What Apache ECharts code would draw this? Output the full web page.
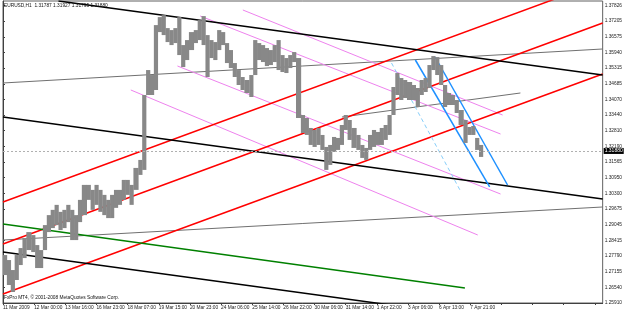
<!DOCTYPE html>
<html><head><meta charset="utf-8">
<script src="https://cdn.jsdelivr.net/npm/echarts@6/dist/echarts.min.js"></script>
<style>html,body{margin:0;padding:0;background:#fff}#c{width:625px;height:312px}</style>
</head><body><div id="c"></div>
<script>
// ---- data ----
const xLabels = ["11 Mar 2009","12 Mar 00:00","13 Mar 16:00","16 Mar 23:00","18 Mar 07:00","19 Mar 15:00","20 Mar 23:00","24 Mar 06:00","25 Mar 14:00","26 Mar 22:00","30 Mar 06:00","31 Mar 14:00","1 Apr 22:00","3 Apr 06:00","6 Apr 13:00","7 Apr 21:00"];
const yLabels = ["1.25910","1.26540","1.27155","1.27790","1.28415","1.29045","1.29675","1.30300","1.30950","1.31565","1.32190","1.32810","1.33440","1.34070","1.34685","1.35315","1.35940","1.36575","1.37205","1.37826"];
// [hour index, low, high]
const bars = [
[1,1.2703,1.2783],[5,1.2663,1.2763],[9,1.2635,1.2723],[13,1.2683,1.2783],[17,1.2743,1.2811],[21,1.2771,1.2851],[25,1.2803,1.2875],[30,1.2795,1.2863],
[34,1.2731,1.2823],[38,1.2731,1.2803],[42,1.2803,1.2903],[46,1.2875,1.2943],[50,1.2891,1.2964],[54,1.2903,1.2984],[58,1.2883,1.2956],[62,1.2891,1.2964],
[66,1.2915,1.2984],[70,1.2843,1.2964],[74,1.2843,1.2943],[78,1.2915,1.3004],[82,1.2943,1.3064],[87,1.3004,1.3064],[91,1.2964,1.3044],[95,1.2984,1.3064],
[99,1.2956,1.3044],[103,1.2943,1.3024],[107,1.2931,1.3004],[111,1.2931,1.3024],[115,1.2972,1.3044],[119,1.2984,1.3044],[123,1.3004,1.3084],[127,1.3024,1.3084],
[131,1.2984,1.3064],[135,1.3044,1.3132],[140,1.3104,1.3164],[144,1.3124,1.3424],[148,1.3424,1.3524],[152,1.3424,1.3504],[156,1.3444,1.3704],[160,1.3676,1.3736],
[164,1.3664,1.3744],[168,1.3636,1.3692],[172,1.3624,1.3684],[176,1.3632,1.3692],[180,1.3584,1.3736],[184,1.3536,1.3624],[188,1.3564,1.3644],[192,1.3604,1.3676],
[197,1.3632,1.3684],[201,1.3644,1.3724],[205,1.3624,1.3740],[209,1.3496,1.3664],[213,1.3572,1.3644],[217,1.3564,1.3636],[221,1.3604,1.3684],[225,1.3624,1.3676],
[229,1.3552,1.3632],[233,1.3532,1.3604],[237,1.3496,1.3552],[241,1.3464,1.3524],[245,1.3444,1.3496],[249,1.3432,1.3484],[254,1.3416,1.3504],[258,1.3504,1.3644],
[262,1.3564,1.3632],[266,1.3556,1.3624],[270,1.3540,1.3612],[274,1.3544,1.3604],[278,1.3556,1.3624],[282,1.3524,1.3644],[286,1.3516,1.3584],[290,1.3512,1.3572],
[294,1.3532,1.3584],[298,1.3556,1.3596],[302,1.3332,1.3572],[307,1.3272,1.3344],[311,1.3264,1.3332],[315,1.3224,1.3292],[319,1.3216,1.3284],[323,1.3224,1.3292],
[327,1.3204,1.3264],[331,1.3124,1.3216],[335,1.3144,1.3224],[339,1.3196,1.3256],[343,1.3204,1.3252],[347,1.3224,1.3304],[351,1.3284,1.3344],[355,1.3244,1.3324],
[359,1.3212,1.3292],[364,1.3204,1.3264],[368,1.3172,1.3224],[372,1.3164,1.3212],[376,1.3204,1.3264],[380,1.3216,1.3284],[384,1.3224,1.3276],[388,1.3224,1.3292],
[392,1.3244,1.3304],[396,1.3264,1.3344],[400,1.3344,1.3456],[404,1.3424,1.3512],[408,1.3404,1.3492],[412,1.3412,1.3484],[416,1.3404,1.3476],[421,1.3404,1.3464],
[425,1.3376,1.3452],[429,1.3424,1.3484],[433,1.3436,1.3492],[437,1.3452,1.3544],[441,1.3524,1.3580],[445,1.3504,1.3576],[449,1.3464,1.3544],[453,1.3376,1.3464],
[457,1.3384,1.3432],[461,1.3384,1.3424],[465,1.3352,1.3404],[469,1.3304,1.3364],[474,1.3232,1.3324],[478,1.3264,1.3296],[482,1.3264,1.3300],[486,1.3204,1.3252],
[490,1.3176,1.3224]
];
const lastPrice = 1.31880;
// trend lines: [hour0, price0, hour1, price1]
const blackLines = [[57,1.38005,616,1.35041],[0,1.33359,616,1.30075],[0,1.27953,616,1.24668]];
const grayLines  = [[0,1.28433,616,1.29755],[0,1.34721,616,1.36083],[348.2,1.33359,531.5,1.34321]];
const redLines   = [[0,1.29955,616,1.38790],[0,1.28273,616,1.37124],[0,1.26270,616,1.35081]];
const greenLines = [[0,1.29074,474.5,1.26511]];
const pinkLines  = [[202.6,1.37404,511.1,1.32678],[246.4,1.37645,513.2,1.33439],[179.2,1.35402,511.1,1.30275],[131.3,1.34441,487.7,1.28633]];
const blueLines  = [[423.6,1.35642,499.9,1.30556],[443.9,1.35762,518.3,1.30636]];
const blueDashLines = [[399.1,1.35522,469.4,1.30436]];

// ---- chart ----
const yMin = 1.25910, yTop = 1.37826, yMax = 1.38005;
const yStep = (yTop - yMin) / (yLabels.length - 1);
const FONT = 'Liberation Sans';
function lineSeries(arr, color, width, type){
  return arr.map(l => ({type:'line', data:[[l[0],l[1]],[l[2],l[3]]], symbol:'none', silent:true, clip:true,
    lineStyle:{color:color, width:width, type:type||'solid'}, z:3, animation:false}));
}
const series = [];
series.push(...lineSeries(grayLines,'#707070',1));
series.push(...lineSeries(pinkLines,'#ee82ee',1));
series.push(...lineSeries(redLines,'#ff0000',1.5));
series.push(...lineSeries(blackLines,'#000000',1.5));
series.push(...lineSeries(greenLines,'#008000',1.5));
series.push(...lineSeries(blueLines,'#1e90ff',1.5));
series.push(...lineSeries(blueDashLines,'#87cefa',1,[4,3]));
series.push({
  type:'custom', data:bars, z:4, animation:false, clip:true,
  renderItem:function(params, api){
    const i = params.dataIndex;
    const hi = api.coord([api.value(0), api.value(2)]);
    const lo = api.coord([api.value(0), api.value(1)]);
    let span = 4;
    if (i + 1 < bars.length) span = bars[i+1][0] - bars[i][0];
    const w = api.size([span,0])[0];
    return {type:'rect', shape:{x:hi[0]-1, y:hi[1], width:w+0.3, height:Math.max(1, lo[1]-hi[1])},
      style:{fill:'#888888'}};
  },
  markLine:{silent:true, symbol:'none', animation:false,
    lineStyle:{color:'#b0b0b0', type:[2,2], width:1},
    label:{show:true, position:'end', formatter:lastPrice.toFixed(5), color:'#fff', backgroundColor:'#000',
      fontFamily:FONT, fontSize:5, padding:[1,1,0,1], distance:1},
    data:[{yAxis:lastPrice}]}
});

const chart = echarts.init(document.getElementById('c'), null, {renderer:'canvas'});
chart.setOption({
  animation:false,
  backgroundColor:'#ffffff',
  grid:{left:1, right:19, top:1, bottom:9, show:true, borderColor:'#606060', borderWidth:1},
  xAxis:{type:'value', min:0, max:616, interval:32,
    axisLine:{show:true, lineStyle:{color:'#404040', width:1}},
    axisTick:{show:true, length:2, lineStyle:{color:'#404040'}},
    splitLine:{show:false},
    axisLabel:{show:true, showMaxLabel:false, align:'left', margin:2, fontFamily:FONT, fontSize:4.8, color:'#222',
      formatter:function(v){ const i = Math.round(v/32); return xLabels[i] || ''; }}},
  yAxis:{type:'value', position:'right', min:yMin, max:yMax, interval:yStep,
    axisLine:{show:true, lineStyle:{color:'#404040', width:1}},
    axisTick:{show:true, length:2, lineStyle:{color:'#404040'}},
    splitLine:{show:false},
    axisLabel:{show:true, showMaxLabel:false, margin:2, fontFamily:FONT, fontSize:4.8, color:'#222',
      formatter:function(v){ const i = Math.round((v-yMin)/yStep); return yLabels[i] || ''; }}},
  graphic:[
    {type:'text', left:4, top:3, style:{text:'EURUSD,H1  1.31787 1.31927 1.31795 1.31880', fontFamily:FONT, fontSize:4.8, fill:'#111'}, z:10},
    {type:'text', left:4, top:295, style:{text:'FxPro MT4, \u00a9 2001-2008 MetaQuotes Software Corp.', fontFamily:FONT, fontSize:4.8, fill:'#111'}, z:10}
  ],
  series:series
});
</script></body></html>
